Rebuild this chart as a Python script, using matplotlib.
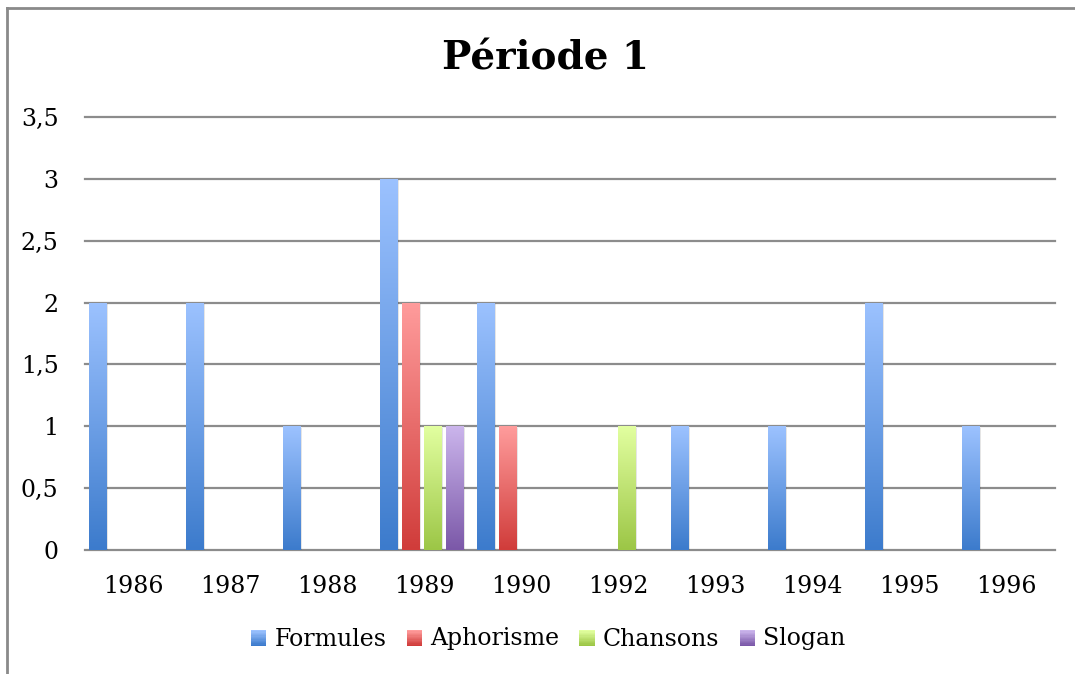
import matplotlib.pyplot as plt
import numpy as np
from matplotlib.colors import LinearSegmentedColormap
from matplotlib.lines import Line2D
from matplotlib.patches import Patch, Rectangle
from matplotlib.legend_handler import HandlerBase

years = ["1986", "1987", "1988", "1989", "1990", "1992", "1993", "1994", "1995", "1996"]
formules = [2, 2, 1, 3, 2, 0, 1, 1, 2, 1]
aphorisme = [0, 0, 0, 2, 1, 0, 0, 0, 0, 0]
chansons = [0, 0, 0, 1, 0, 1, 0, 0, 0, 0]
slogan = [0, 0, 0, 1, 0, 0, 0, 0, 0, 0]

series = [
    ("Formules", formules, "#9cc2ff", "#3c7bcc"),
    ("Aphorisme", aphorisme, "#ff9c9c", "#d03c3a"),
    ("Chansons", chansons, "#e2ffa0", "#9cc646"),
    ("Slogan", slogan, "#cbb5ec", "#7b58a8"),
]

plt.rcParams['font.family'] = ['DejaVu Serif']


class GradientHandler(HandlerBase):
    # legend square drawn as stacked strips to fake the gradient
    def create_artists(self, legend, orig, xd, yd, width, height, fontsize, trans):
        cmap = orig.cmap
        n = 12
        arts = []
        for k in range(n):
            arts.append(Rectangle((xd, yd + height * k / n), width, height / n + 0.3,
                                  facecolor=cmap(k / (n - 1)), edgecolor="none",
                                  transform=trans))
        return arts


fig = plt.figure(figsize=(10.75, 6.74), dpi=100)
ax = fig.add_axes([85 / 1075, 1 - 550 / 674, 970 / 1075, 433 / 674])

x = np.arange(len(years))
pitch = 0.226
width = 0.182
grad = np.linspace(1, 0, 256).reshape(-1, 1)

handles = []
for j, (name, vals, top, bottom) in enumerate(series):
    cmap = LinearSegmentedColormap.from_list(name, [bottom, top])
    pos = x + (j - 1.5) * pitch - 0.025
    bars = ax.bar(pos, vals, width, color="none", edgecolor="none", zorder=3)
    for b in bars:
        h = b.get_height()
        if h <= 0:
            continue
        # soft shadow on the right
        ax.add_patch(Rectangle((b.get_x() + 0.012, 0), width, h - 0.01,
                               color="#000000", alpha=0.10, zorder=2, lw=0))
        im = ax.imshow(grad, cmap=cmap, aspect="auto", zorder=3,
                       extent=[b.get_x(), b.get_x() + width, 0, h])
        im.set_clip_path(b)
    p = Patch(facecolor=cmap(0.5), edgecolor="none", label=name)
    p.cmap = cmap
    handles.append(p)

ax.set_xlim(-0.5, len(years) - 0.5)
ax.set_ylim(0, 3.5)
ax.set_yticks(np.arange(0, 3.51, 0.5))
ax.set_yticklabels([f"{v:g}".replace(".", ",") for v in np.arange(0, 3.51, 0.5)])
ax.set_xticks(x)
ax.set_xticklabels(years)
ax.yaxis.grid(True, color="#8c8c8c", linewidth=1.6, zorder=0)
for gl in ax.get_ygridlines():
    gl.set_clip_on(False)
ax.set_axisbelow(True)
for s in ax.spines.values():
    s.set_visible(False)
ax.tick_params(axis="both", length=0, labelsize=17, colors="black")
ax.tick_params(axis="x", pad=18)
ax.tick_params(axis="y", pad=19)

fig.text(0.507, 1 - 59 / 674, "Période 1", ha="center", va="center",
         fontsize=28, fontweight="bold")

fig.legend(handles=handles, handler_map={Patch: GradientHandler()},
           loc="center", bbox_to_anchor=(0.51, 1 - 639 / 674),
           ncol=4, frameon=False, fontsize=17, handlelength=0.65, handleheight=0.65,
           handletextpad=0.35, columnspacing=0.85)

# chart frame (left and top edges)
fig.add_artist(Line2D([7 / 1075, 7 / 1075], [0, 1 - 8 / 674], transform=fig.transFigure,
                      color="#8a8a8a", linewidth=2))
fig.add_artist(Line2D([7 / 1075, 1], [1 - 8 / 674, 1 - 8 / 674], transform=fig.transFigure,
                      color="#8a8a8a", linewidth=2))

fig.savefig("out.png", dpi=100)
